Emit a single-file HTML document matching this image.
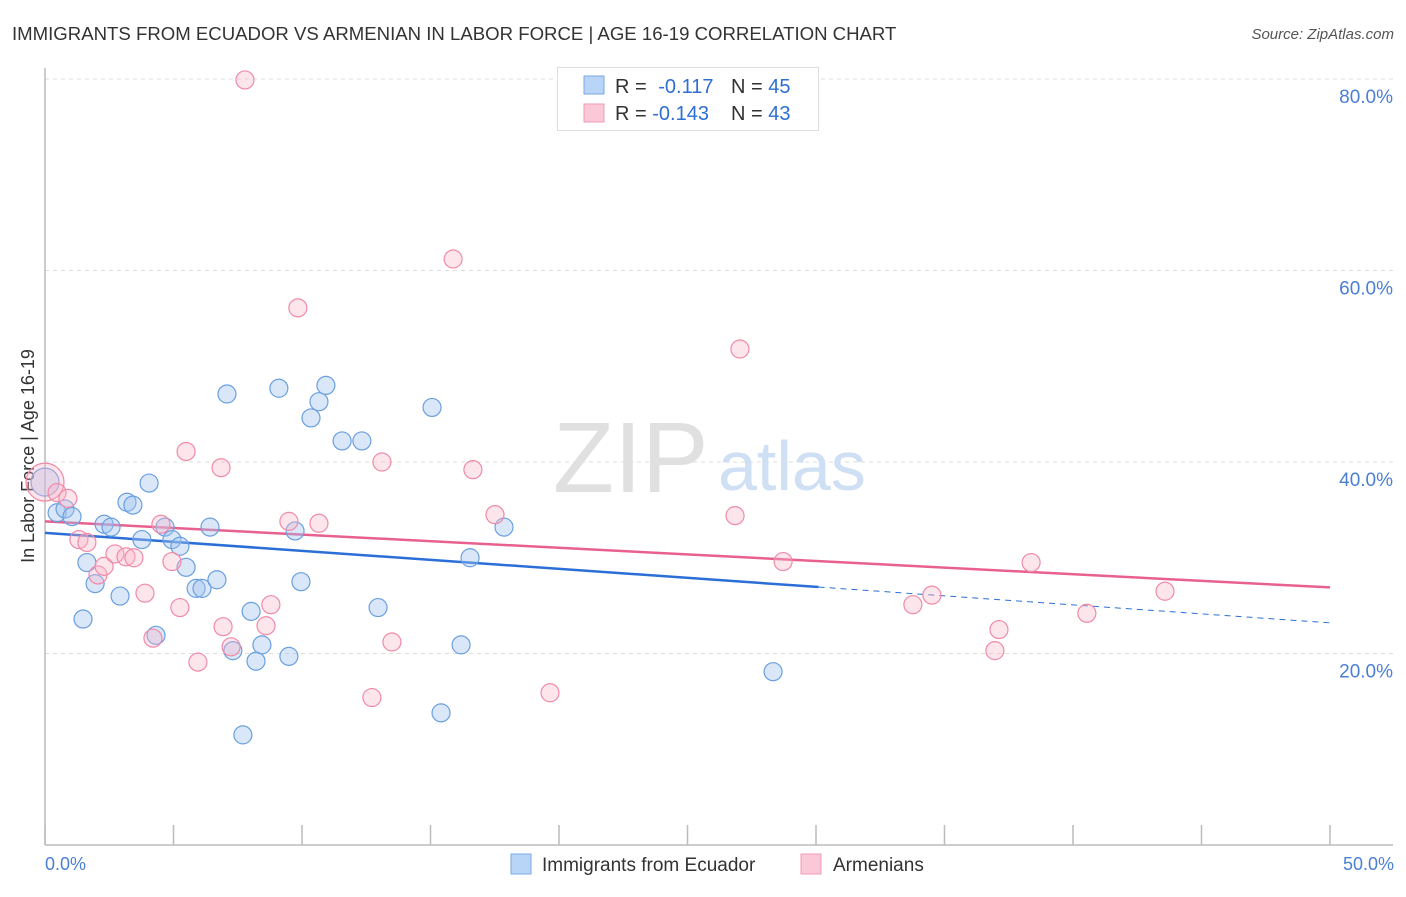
<!DOCTYPE html>
<html><head><meta charset="utf-8"><style>
body{margin:0;background:#fff;font-family:"Liberation Sans",sans-serif;}
svg text{font-family:"Liberation Sans",sans-serif;}
</style></head><body>
<svg id="chart" width="1406" height="892">
<text x="12" y="40" font-size="18.6" fill="#333">IMMIGRANTS FROM ECUADOR VS ARMENIAN IN LABOR FORCE | AGE 16-19 CORRELATION CHART</text>
<text x="1394" y="39" font-size="15" fill="#555" font-style="italic" text-anchor="end">Source: ZipAtlas.com</text>
<g id="grid"></g>
<text x="553" y="492" font-size="100" fill="#e0e0e0" font-family="Liberation Serif">ZIP</text>
<text x="718" y="490" font-size="70" fill="#cfdff4">atlas</text>
<line x1="45" y1="68" x2="45" y2="845" stroke="#bbb" stroke-width="1.5"/>
<line x1="45" y1="845" x2="1393" y2="845" stroke="#bbb" stroke-width="1.5"/>
<g id="ticks"></g>
<g id="ylabels"></g>
<text x="45" y="870" font-size="18" fill="#4a7fd4">0.0%</text>
<text x="1394" y="870" font-size="18" fill="#4a7fd4" text-anchor="end">50.0%</text>
<text transform="translate(34,456) rotate(-90)" font-size="18" fill="#333" text-anchor="middle">In Labor Force | Age 16-19</text>
<g id="lines"></g>
<g id="pts"></g>
<g>
<rect x="557.5" y="67.5" width="261" height="63" fill="#fff" stroke="#ddd"/>
<rect x="584" y="76" width="20" height="18" fill="#b8d4f6" stroke="#7aa8e6"/>
<rect x="584" y="104" width="20" height="18" fill="#fac8d6" stroke="#f09ab5"/>
<text x="615" y="93" font-size="20" fill="#333">R = <tspan fill="#2e6fd3" dx="6">-0.117</tspan></text>
<text x="731" y="93" font-size="20" fill="#333">N = <tspan fill="#2e6fd3">45</tspan></text>
<text x="615" y="120" font-size="20" fill="#333">R = <tspan fill="#2e6fd3">-0.143</tspan></text>
<text x="731" y="120" font-size="20" fill="#333">N = <tspan fill="#2e6fd3">43</tspan></text>
</g>
<g>
<rect x="511" y="854" width="20" height="20" fill="#b8d4f6" stroke="#7aa8e6"/>
<text x="542" y="871" font-size="19" fill="#333">Immigrants from Ecuador</text>
<rect x="801" y="854" width="20" height="20" fill="#fac8d6" stroke="#f09ab5"/>
<text x="833" y="871" font-size="19" fill="#333">Armenians</text>
</g>
</svg>
<script>
const yTicks=[20,40,60,80];
const yTickLabels=["20.0%","40.0%","60.0%","80.0%"];
const xTicks=[0,5,10,15,20,25,30,35,40,45,50];
const blueX=[0,0.47,0.78,1.05,1.63,1.95,1.48,2.30,2.57,2.92,3.19,3.42,4.05,3.77,4.32,4.67,4.94,5.25,5.49,5.88,6.11,6.42,6.69,7.08,7.31,7.70,8.02,8.21,8.44,9.10,9.49,9.73,9.96,10.35,10.66,10.93,11.56,12.33,12.96,15.06,15.41,16.19,16.54,17.86,28.33];
const blueY=[37.9,34.7,35.1,34.3,29.5,27.3,23.6,33.5,33.2,26.0,35.8,35.5,37.8,31.9,21.9,33.2,31.9,31.2,29.0,26.8,26.8,33.2,27.7,47.1,20.3,11.5,24.4,19.2,20.9,47.7,19.7,32.8,27.5,44.6,46.3,48.0,42.2,42.2,24.8,45.7,13.8,20.9,30.0,33.2,18.1];
const pinkX=[0,0.47,0.89,1.32,1.63,2.06,2.30,2.72,3.15,3.46,3.89,4.20,4.51,4.94,5.25,5.49,5.95,6.85,6.93,7.24,7.78,8.60,8.79,9.49,9.84,10.66,12.72,13.11,13.50,15.88,16.65,17.51,19.65,26.85,27.04,28.72,33.77,34.51,36.96,37.12,38.37,40.54,43.58];
const pinkY=[37.9,36.8,36.2,31.9,31.6,28.2,29.1,30.4,30.1,30.0,26.3,21.6,33.5,29.6,24.8,41.1,19.1,39.4,22.8,20.7,79.9,22.9,25.1,33.8,56.1,33.6,15.4,40.0,21.2,61.2,39.2,34.5,15.9,34.4,51.8,29.6,25.1,26.1,20.3,22.5,29.5,24.2,26.5];
const blueTrend=[32.6,23.2], blueSolidEnd=30.1;
const pinkTrend=[33.8,26.9];
const NS="http://www.w3.org/2000/svg";
const sx=v=>45+v/50*1285, sy=v=>845-v/20*191.5;
function mk(t,a,p){const e=document.createElementNS(NS,t);for(const k in a)e.setAttribute(k,a[k]);p.appendChild(e);return e;}
const grid=document.getElementById('grid'),yl=document.getElementById('ylabels'),tk=document.getElementById('ticks');
yTicks.forEach((v,i)=>{
 const l=mk('line',{x1:45,x2:1393,y1:sy(v),y2:sy(v),stroke:'#ddd','stroke-dasharray':'4,4'},grid);
 
 
 const t=mk('text',{x:1393,y:sy(v)+24,'font-size':19,fill:'#4a7fd4','text-anchor':'end'},yl);
 t.textContent=yTickLabels[i];
 
 
});
xTicks.forEach(v=>{
 const l=mk('line',{x1:sx(v),x2:sx(v),y1:825,y2:845,stroke:'#bbb','stroke-width':1.5},tk);
 
 
});
const ln=document.getElementById('lines');
const bl=(blueTrend[1]-blueTrend[0])/50;
let e=mk('line',{x1:sx(0),y1:sy(blueTrend[0]),x2:sx(blueSolidEnd),y2:sy(blueTrend[0]+bl*blueSolidEnd),stroke:'#2b6fd6','stroke-width':2.5},ln);


e=mk('line',{x1:sx(blueSolidEnd),y1:sy(blueTrend[0]+bl*blueSolidEnd),x2:sx(50),y2:sy(blueTrend[1]),stroke:'#2b6fd6','stroke-width':1,'stroke-dasharray':'6,5'},ln);


e=mk('line',{x1:sx(0),y1:sy(pinkTrend[0]),x2:sx(50),y2:sy(pinkTrend[1]),stroke:'#e8608f','stroke-width':2.5},ln);


const pts=document.getElementById('pts');
blueX.forEach((x,i)=>{
 const c=mk('circle',{cx:sx(x),cy:sy(blueY[i]),r:i==0?14:9,fill:'rgba(160,196,240,0.4)',stroke:'#6a9fe0','stroke-width':1.2},pts);
 
 
});
pinkX.forEach((x,i)=>{
 const c=mk('circle',{cx:sx(x),cy:sy(pinkY[i]),r:i==0?19:9,fill:'rgba(248,180,200,0.35)',stroke:'#f08aa8','stroke-width':1.2},pts);
 
 
});
</script>
</body></html>
